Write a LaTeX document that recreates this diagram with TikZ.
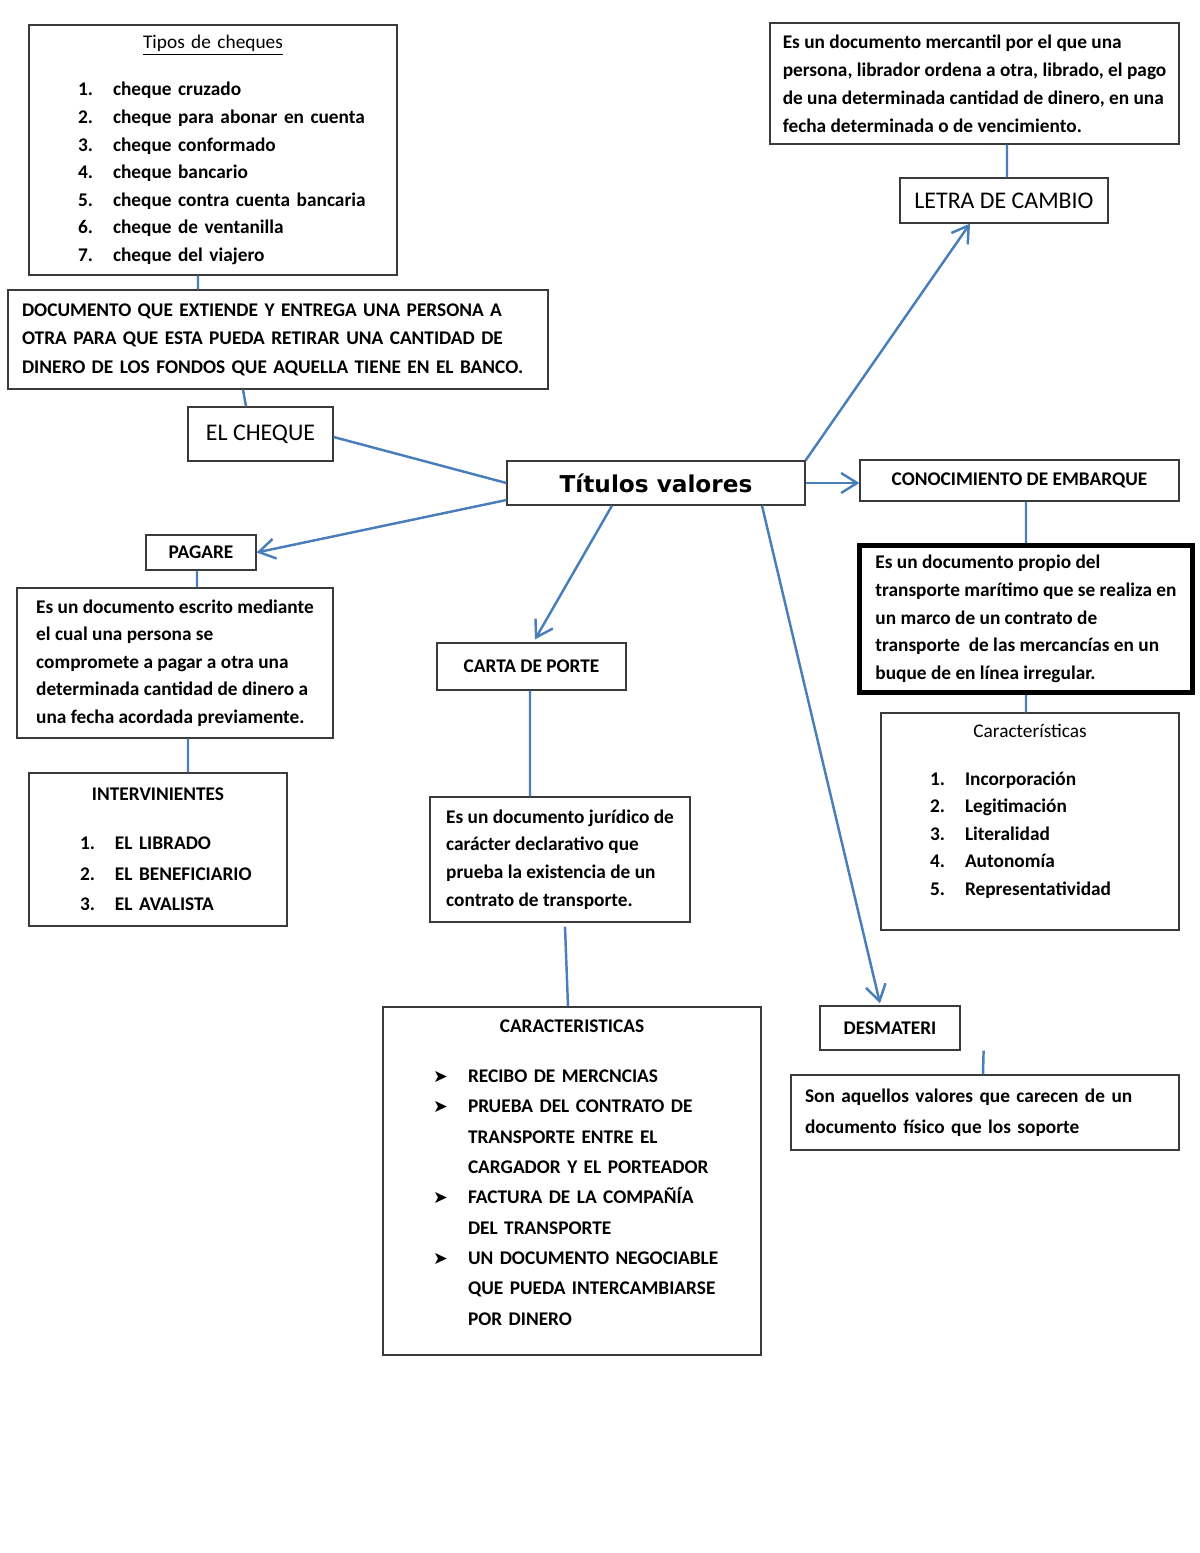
\documentclass[tikz,border=0pt]{standalone}
\usepackage{fontspec}
\setmainfont{Carlito}
\newfontfamily\verdana{DejaVu Sans}
\usepackage{xcolor}
\definecolor{lineblue}{HTML}{4A7EBB}
\definecolor{boxgray}{HTML}{3A3A3A}
\usepackage{tikz}
\usetikzlibrary{arrows.meta}
\newcommand{\itm}[2]{\mbox{\makebox[0.7cm][l]{#1}#2}}
\newcommand{\bul}{{\verdana\mdseries\fontsize{10pt}{12pt}\selectfont ➤}}

\begin{document}
\begin{tikzpicture}[->,>={Straight Barb[length=0.32cm,width=0.4cm]},x=0.02cm,y=-0.02cm,line width=1.4pt]
  \tikzstyle{bx}=[draw=boxgray,line width=0.7pt,inner sep=0pt,align=left,font=\fontsize{11pt}{15.7pt}\selectfont\bfseries]
  \tikzstyle{hd}=[bx,align=center,font=\fontsize{13.6pt}{16pt}\selectfont]
  \tikzstyle{be}=[-,draw=lineblue]
  \tikzstyle{ba}=[->,draw=lineblue]

  \useasboundingbox (0,0) rectangle (1200,1553);

  \node[hd] (T)   [at={(656,483)},minimum width=5.96cm,minimum height=0.88cm,font=\verdana\fontsize{13.2pt}{16pt}\selectfont\bfseries] {Títulos valores};

  \node[bx] (TC)  [at={(213,150)},minimum width=7.36cm,minimum height=5cm,text width=5.4cm]
        {\makebox[\linewidth]{\mdseries\underline{Tipos de cheques}}\\[0.39cm]
         \itm{1.}{cheque cruzado}\\
         \itm{2.}{cheque para abonar en cuenta}\\
         \itm{3.}{cheque conformado}\\
         \itm{4.}{cheque bancario}\\
         \itm{5.}{cheque contra cuenta bancaria}\\
         \itm{6.}{cheque de ventanilla}\\
         \itm{7.}{cheque del viajero}};
  \node[bx] (CHD) [at={(278,339.5)},minimum width=10.8cm,minimum height=1.98cm,text width=10.24cm,font=\fontsize{11pt}{16.2pt}\selectfont\bfseries]
        {DOCUMENTO QUE EXTIENDE Y ENTREGA UNA PERSONA A\\
         OTRA PARA QUE ESTA PUEDA RETIRAR UNA CANTIDAD DE\\
         DINERO DE LOS FONDOS QUE AQUELLA TIENE EN EL BANCO.};
  \node[hd] (CH)  [at={(260.5,434)},minimum width=2.9cm,minimum height=1.08cm] {EL CHEQUE};

  \node[hd] (LC)  [at={(1004,200.5)},minimum width=4.16cm,minimum height=0.9cm] {LETRA DE CAMBIO};
  \node[bx] (LCD) [at={(974.5,83.5)},minimum width=8.18cm,minimum height=2.42cm,font=\fontsize{11pt}{16pt}\selectfont\bfseries]
        {Es un documento mercantil por el que una\\
         persona, librador ordena a otra, librado, el pago\\
         de una determinada cantidad de dinero, en una\\
         fecha determinada o de vencimiento.};

  \node[bx] (CE)  [at={(1019.5,480.5)},minimum width=6.38cm,minimum height=0.82cm] {CONOCIMIENTO DE EMBARQUE};
  \node[bx] (CED) [at={(1026,619)},minimum width=6.66cm,minimum height=2.94cm,line width=2.8pt,draw=black]
        {Es un documento propio del\\
         transporte marítimo que se realiza en\\
         un marco de un contrato de\\
         transporte\ \ de las mercancías en un\\
         buque de en línea irregular.};
  \node[bx] (CC)  [at={(1030,821.5)},minimum width=5.96cm,minimum height=4.34cm,text width=4cm]
        {\makebox[\linewidth]{\mdseries Características}\\[0.39cm]
         \itm{1.}{Incorporación}\\
         \itm{2.}{Legitimación}\\
         \itm{3.}{Literalidad}\\
         \itm{4.}{Autonomía}\\
         \itm{5.}{Representatividad}\rule[-0.46cm]{0pt}{0pt}};

  \node[bx] (PG)  [at={(201,552.5)},minimum width=2.2cm,minimum height=0.7cm] {PAGARE};
  \node[bx] (PGD) [at={(175,663)},minimum width=6.32cm,minimum height=3cm]
        {Es un documento escrito mediante\\
         el cual una persona se\\
         compromete a pagar a otra una\\
         determinada cantidad de dinero a\\
         una fecha acordada previamente.};
  \node[bx] (IN)  [at={(158,849.5)},minimum width=5.16cm,minimum height=3.06cm,text width=3.12cm,font=\fontsize{11pt}{17.3pt}\selectfont\bfseries]
        {\makebox[\linewidth]{INTERVINIENTES}\\[0.37cm]
         \itm{1.}{EL LIBRADO}\\
         \itm{2.}{EL BENEFICIARIO}\\
         \itm{3.}{EL AVALISTA}};

  \node[bx] (CP)  [at={(531.5,666.5)},minimum width=3.78cm,minimum height=0.94cm] {CARTA DE PORTE};
  \node[bx] (CPD) [at={(560,859.5)},minimum width=5.2cm,minimum height=2.5cm]
        {Es un documento jurídico de\\
         carácter declarativo que\\
         prueba la existencia de un\\
         contrato de transporte.};
  \node[bx] (CA)  [at={(572,1181)},minimum width=7.56cm,minimum height=6.96cm,text width=5.56cm,font=\fontsize{11pt}{17.3pt}\selectfont\bfseries]
        {\makebox[\linewidth]{CARACTERISTICAS}\\[0.39cm]
         \itm{\bul}{RECIBO DE MERCNCIAS}\\
         \itm{\bul}{PRUEBA DEL CONTRATO DE}\\
         \itm{}{TRANSPORTE ENTRE EL}\\
         \itm{}{CARGADOR Y EL PORTEADOR}\\
         \itm{\bul}{FACTURA DE LA COMPAÑÍA}\\
         \itm{}{DEL TRANSPORTE}\\
         \itm{\bul}{UN DOCUMENTO NEGOCIABLE}\\
         \itm{}{QUE PUEDA INTERCAMBIARSE}\\
         \itm{}{POR DINERO}\rule[-0.34cm]{0pt}{0pt}};

  \node[bx] (DS)  [at={(890,1028)},minimum width=2.8cm,minimum height=0.88cm] {DESMATERI};
  \node[bx] (DSD) [at={(985,1112.5)},minimum width=7.76cm,minimum height=1.5cm,text width=7.2cm,font=\fontsize{11pt}{17.6pt}\selectfont\bfseries]
        {Son aquellos valores que carecen de un\\
         documento físico que los soporte};

  \path ([yshift=-0.06cm]CH.east)          edge [be] (T.west)
        ([yshift=-0.34cm]T.west)           edge [ba] (PG.east)
        ([xshift=-0.88cm]T.south)          edge [ba] ([xshift=0.07cm,yshift=0.06cm]CP.north)
        (T.east)                           edge [ba] (T.east -| CE.west)
        (T.north east)                     edge [ba] ([xshift=-0.68cm]LC.south)
        ([xshift=2.12cm]T.south)           edge [ba] ([xshift=-0.2cm,yshift=0.04cm]DS.north)
        ([xshift=-0.3cm]TC.south)          edge [be] ([xshift=-1.6cm]CHD.north)
        ([xshift=-0.7cm]CHD.south)         edge [be] ([xshift=-0.29cm]CH.north)
        ([xshift=0.06cm]LC.north)          edge [be] ([xshift=0.65cm]LCD.south)
        ([xshift=0.13cm]CE.south)          edge [be] (CED.north)
        (CED.south)                        edge [be] ([xshift=-0.08cm]CC.north)
        ([xshift=-0.08cm]PG.south)         edge [be] ([xshift=0.44cm]PGD.north)
        ([xshift=0.26cm]PGD.south)         edge [be] ([xshift=0.6cm]IN.north)
        ([xshift=-0.03cm]CP.south)         edge [be] ([xshift=-0.6cm]CPD.north)
        ([xshift=0.1cm,yshift=-0.08cm]CPD.south) edge [be] ([xshift=-0.08cm]CA.north)
        ([xshift=0.46cm]DS.south east)     edge [be] ([xshift=-0.04cm]DSD.north);
\end{tikzpicture}
\end{document}
